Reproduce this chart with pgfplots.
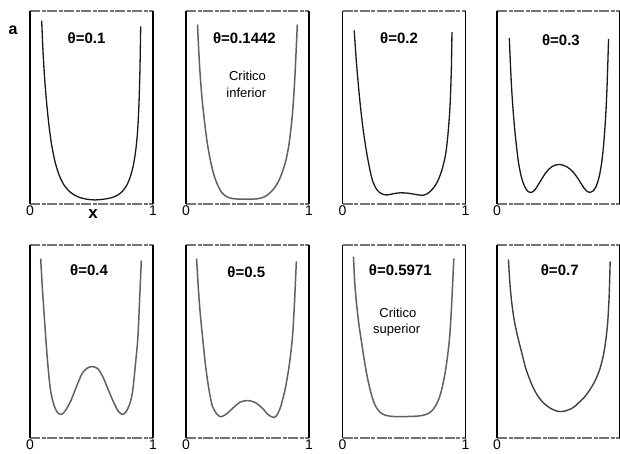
\documentclass[border=0pt]{standalone}
\usepackage{pgfplots}
\pgfplotsset{compat=1.18}
\usepackage{fontspec}
\setmainfont{Liberation Sans}

\pgfplotsset{
  panel/.style={
    scale only axis, width=123pt, height=193pt,
    xmin=0, xmax=1, ymin=0, ymax=1,
    axis lines=box, separate axis lines,
    x axis line style={draw=black!55, line width=1.1pt, dash pattern=on 10pt off 1.5pt on 4pt off 1.5pt},
    y axis line style={draw=black, line width=1.1pt},
    xtick={0,1}, xticklabels={0,1}, ytick=\empty,
    major tick length=0pt,
    xticklabel style={font=\fontsize{14}{14}\selectfont, inner sep=1.2pt},
    anchor=north west,
  },
  % rightmost column: the "1" falls beyond the page edge
  lastcol/.style={xtick={0}, xticklabels={0}},
  curve/.style={smooth, line width=1.3pt, black!90, mark=none},
  softcurve/.style={smooth, line width=1.5pt, black!62, mark=none},
}
\newcommand{\lab}{\fontsize{15}{15}\selectfont\bfseries}
\newcommand{\sub}{\fontsize{13}{13}\selectfont}

\begin{document}
\begin{tikzpicture}
\useasboundingbox (0,0) rectangle (620pt,-454pt);

\node[font=\fontsize{16}{16}\selectfont\bfseries] at (13pt,-30pt) {a};
\node[font=\fontsize{17}{17}\selectfont\bfseries] at (93pt,-214pt) {x};

% ---------- first row ----------
\begin{axis}[panel, at={(30pt,-11pt)}]
\addplot[curve] coordinates {
 (0.095,0.95) (0.105,0.80) (0.118,0.66) (0.133,0.54) (0.152,0.42)
 (0.175,0.31) (0.205,0.215) (0.24,0.145) (0.28,0.095) (0.33,0.06)
 (0.39,0.037) (0.46,0.025) (0.53,0.021) (0.60,0.025) (0.66,0.032)
 (0.71,0.045) (0.75,0.065) (0.785,0.095) (0.815,0.14) (0.84,0.20)
 (0.86,0.28) (0.875,0.38) (0.886,0.52) (0.894,0.70) (0.90,0.92)};
\node[font=\lab] at (axis cs:0.46,0.86) {θ=0.1};
\end{axis}

\begin{axis}[panel, at={(186pt,-11pt)}]
\addplot[softcurve] coordinates {
 (0.094,0.93) (0.103,0.80) (0.115,0.67) (0.13,0.55) (0.15,0.43)
 (0.172,0.32) (0.197,0.23) (0.225,0.155) (0.256,0.10) (0.29,0.06)
 (0.33,0.038) (0.38,0.028) (0.45,0.025) (0.52,0.025) (0.58,0.027)
 (0.63,0.035) (0.675,0.053) (0.715,0.08) (0.75,0.115) (0.78,0.16)
 (0.81,0.22) (0.835,0.30) (0.855,0.40) (0.872,0.52) (0.887,0.68)
 (0.905,0.93)};
\node[font=\lab] at (axis cs:0.475,0.86) {θ=0.1442};
\node[font=\sub] at (axis cs:0.50,0.665) {Critico};
\node[font=\sub] at (axis cs:0.49,0.575) {inferior};
\end{axis}

\begin{axis}[panel, at={(342.5pt,-11pt)}]
\addplot[curve] coordinates {
 (0.095,0.90) (0.11,0.76) (0.127,0.63) (0.145,0.51) (0.165,0.40)
 (0.185,0.31) (0.205,0.235) (0.225,0.17) (0.245,0.12) (0.27,0.083)
 (0.30,0.06) (0.33,0.05) (0.365,0.047) (0.42,0.054) (0.47,0.058)
 (0.53,0.056) (0.59,0.05) (0.65,0.045) (0.685,0.052) (0.715,0.066)
 (0.745,0.088) (0.775,0.12) (0.81,0.18) (0.84,0.264) (0.86,0.38)
 (0.875,0.518) (0.885,0.70) (0.89,0.89)};
\node[font=\lab] at (axis cs:0.46,0.86) {θ=0.2};
\end{axis}

\begin{axis}[panel, lastcol, at={(497pt,-11pt)}]
\addplot[curve] coordinates {
 (0.10,0.86) (0.108,0.74) (0.117,0.62) (0.128,0.51) (0.142,0.40)
 (0.158,0.30) (0.176,0.21) (0.198,0.14) (0.222,0.095) (0.25,0.066)
 (0.28,0.06) (0.31,0.075) (0.35,0.115) (0.40,0.165) (0.45,0.195)
 (0.51,0.205) (0.57,0.192) (0.62,0.165) (0.665,0.125) (0.705,0.085)
 (0.735,0.064) (0.757,0.06) (0.78,0.067) (0.805,0.09) (0.83,0.14)
 (0.85,0.21) (0.866,0.30) (0.878,0.40) (0.888,0.51) (0.897,0.65)
 (0.907,0.855)};
\node[font=\lab] at (axis cs:0.52,0.85) {θ=0.3};
\end{axis}

% ---------- second row ----------
\begin{axis}[panel, at={(30pt,-245pt)}]
\addplot[softcurve] coordinates {
 (0.087,0.93) (0.10,0.78) (0.115,0.64) (0.128,0.52) (0.145,0.38)
 (0.164,0.26) (0.18,0.205) (0.198,0.165) (0.22,0.135) (0.25,0.122)
 (0.28,0.135) (0.33,0.19) (0.374,0.26) (0.42,0.33) (0.46,0.36)
 (0.504,0.37) (0.55,0.36) (0.59,0.32) (0.63,0.26) (0.68,0.185)
 (0.72,0.137) (0.755,0.122) (0.785,0.14) (0.81,0.175) (0.825,0.21)
 (0.838,0.26) (0.857,0.38) (0.877,0.52) (0.89,0.70) (0.905,0.92)};
\node[font=\lab] at (axis cs:0.48,0.87) {θ=0.4};
\end{axis}

\begin{axis}[panel, at={(186pt,-245pt)}]
\addplot[softcurve] coordinates {
 (0.086,0.93) (0.10,0.78) (0.115,0.65) (0.135,0.52) (0.158,0.38)
 (0.183,0.265) (0.20,0.205) (0.216,0.163) (0.25,0.125) (0.284,0.11)
 (0.33,0.125) (0.39,0.16) (0.44,0.186) (0.50,0.194) (0.56,0.185)
 (0.62,0.155) (0.67,0.12) (0.716,0.106) (0.745,0.125) (0.77,0.163)
 (0.79,0.21) (0.81,0.265) (0.84,0.38) (0.865,0.52) (0.882,0.70)
 (0.897,0.915)};
\node[font=\lab] at (axis cs:0.49,0.86) {θ=0.5};
\end{axis}

\begin{axis}[panel, at={(342.5pt,-245pt)}]
\addplot[softcurve] coordinates {
 (0.089,0.94) (0.10,0.80) (0.115,0.69) (0.133,0.59) (0.154,0.50)
 (0.178,0.40) (0.205,0.305) (0.235,0.225) (0.265,0.17) (0.30,0.137)
 (0.34,0.12) (0.40,0.112) (0.50,0.111) (0.60,0.113) (0.65,0.117)
 (0.69,0.125) (0.725,0.14) (0.755,0.165) (0.785,0.205) (0.81,0.26)
 (0.835,0.34) (0.855,0.43) (0.872,0.53) (0.888,0.70) (0.905,0.93)};
\node[font=\lab] at (axis cs:0.47,0.87) {θ=0.5971};
\node[font=\sub] at (axis cs:0.45,0.65) {Critico};
\node[font=\sub] at (axis cs:0.44,0.56) {superior};
\end{axis}

\begin{axis}[panel, lastcol, at={(497pt,-245pt)}]
\addplot[smooth, line width=1.4pt, black!75, mark=none] coordinates {
 (0.093,0.925) (0.105,0.80) (0.12,0.70) (0.14,0.61) (0.17,0.52)
 (0.20,0.445) (0.237,0.354) (0.29,0.267) (0.34,0.21) (0.39,0.175)
 (0.44,0.152) (0.485,0.14) (0.525,0.137) (0.57,0.143) (0.62,0.158)
 (0.66,0.18) (0.715,0.215) (0.76,0.255) (0.80,0.30) (0.835,0.355)
 (0.862,0.42) (0.883,0.50) (0.90,0.60) (0.912,0.74) (0.92,0.914)};
\node[font=\lab] at (axis cs:0.51,0.87) {θ=0.7};
\end{axis}
\end{tikzpicture}
\end{document}
